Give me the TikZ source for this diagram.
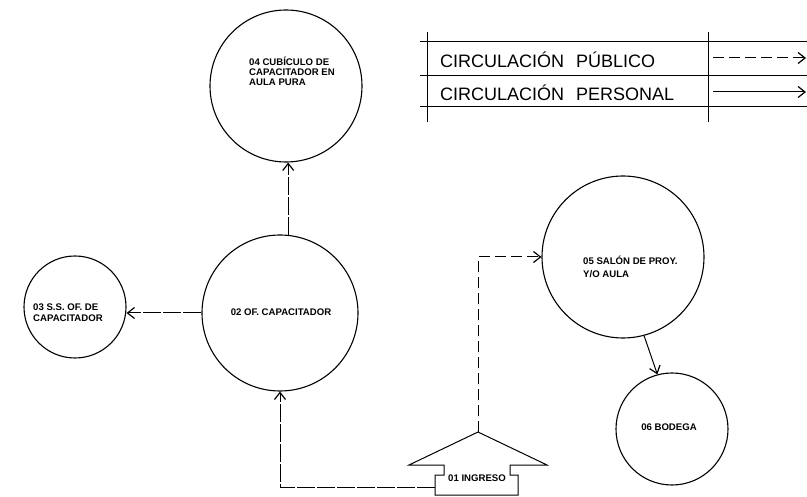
\documentclass[tikz,border=0pt]{standalone}
\usepackage{fontspec}
\setmainfont{Liberation Sans}
\usetikzlibrary{arrows.meta}
\begin{document}
\begin{tikzpicture}[x=1pt,y=-1pt,
  room/.style={circle,draw,line width=1.1pt,minimum size=#1,inner sep=0pt},
  lbl/.style={font=\fontsize{9.6}{10.5}\selectfont\bfseries,align=left,inner sep=0pt,anchor=west},
  leg/.style={font=\fontsize{18}{20}\selectfont,inner sep=0pt,anchor=west},
  tip/.style={-{Straight Barb[length=7pt,width=11pt,line width=1.2pt]}},
  pub/.style={draw,line width=1pt,dash pattern=on 11pt off 5pt,tip},
  per/.style={draw,line width=1pt,tip},
  staff/.style={draw,line width=1pt,dash pattern=on 18pt off 2pt,tip},
  frame/.style={draw,line width=1pt}]
\useasboundingbox[fill=white] (0,0) rectangle (807,497);
% rooms
\node[room=152pt] (c4) at (286,86) {};
\node[room=156pt] (c2) at (280,313) {};
\node[room=102pt] (c3) at (75,307) {};
\node[room=162pt] (c5) at (623,257) {};
\node[room=112pt] (c6) at (672,429) {};
% labels
\node[lbl,font=\fontsize{9.6}{10}\selectfont\bfseries] (t4) at (249,71) {04 CUBÍCULO DE\\CAPACITADOR EN\\AULA PURA};
\node[lbl,font=\fontsize{9.6}{11}\selectfont\bfseries] (t3) at (33,312.5) {03 S.S. OF. DE\\CAPACITADOR};
\node[lbl,anchor=center] (t2) at (281,312) {02 OF. CAPACITADOR};
\node[lbl,font=\fontsize{9.6}{13}\selectfont\bfseries] (t5) at (583,266.5) {05 SALÓN DE PROY.\\Y/O AULA};
\node[lbl,anchor=center] (t6) at (669,427) {06 BODEGA};
% entrance symbol
\coordinate (apex) at (478,432);
\coordinate (entry) at (435,487);
\draw[frame] (409,465) -- (apex) -- (547,465) -- (510,465) -- (510,475) -- (518,475)
  -- (518,495) -- (435,495) -- (435,475) -- (444,475) -- (444,465) -- cycle;
\node[lbl] (t1) at (448,478) {01 INGRESO};
% connectors
\draw[staff] (entry) -| (c2.south);
\draw[pub] (apex) |- (c5.west);
\draw[staff] (c2.84) -- (c2.84 |- c4.south);
\draw[staff] (c2.west) -- (c2.west -| c3.east);
\draw[per] (c5.-75) -- (c6.105);
% legend
\coordinate (v1a) at (427,32); \coordinate (v1b) at (427,122);
\coordinate (v2a) at (708,32); \coordinate (v2b) at (708,122);
\draw[frame] (v1a) -- (v1b);
\draw[frame] (v2a) -- (v2b);
\draw[frame] (420,42) -- (807,42);
\draw[frame] (420,76) -- (807,76);
\draw[frame] (420,107) -- (807,107);
\node[leg] (l1) at (440,60) {CIRCULACIÓN\hspace{12pt}PÚBLICO};
\node[leg] (l2) at (440,93) {CIRCULACIÓN\hspace{12pt}PERSONAL};
\coordinate (la1) at (713,58); \coordinate (lb1) at (806,58);
\coordinate (la2) at (713,92); \coordinate (lb2) at (806,92);
\draw[pub] (la1) -- (lb1);
\draw[per] (la2) -- (lb2);
\end{tikzpicture}
\end{document}
